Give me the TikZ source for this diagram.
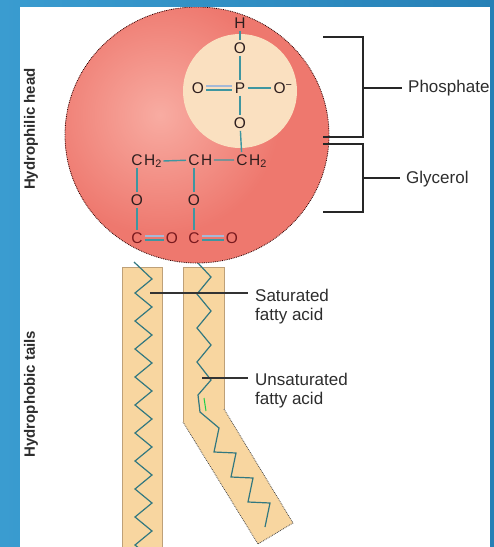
\documentclass[tikz,border=0pt]{standalone}
\usepackage{fontspec}
\setmainfont{Liberation Sans}
\usetikzlibrary{calc}

\definecolor{slideblue}{RGB}{58,156,208}
\definecolor{slidedark}{RGB}{38,128,182}
\definecolor{headred}{RGB}{238,120,110}
\definecolor{headlight}{RGB}{248,172,162}
\definecolor{cream}{RGB}{250,224,192}
\definecolor{tailfill}{RGB}{248,214,160}
\definecolor{tailedge}{RGB}{190,160,120}
\definecolor{bondcol}{RGB}{62,150,160}
\definecolor{bondpale}{RGB}{165,185,215}
\definecolor{atomcol}{RGB}{45,30,30}
\definecolor{esteratom}{RGB}{120,25,30}
\definecolor{labelcol}{RGB}{45,45,45}

\tikzset{
  atom/.style={font=\fontsize{15.5}{17}\selectfont, text=atomcol, inner sep=0.6pt, outer sep=1.8pt},
  ester/.style={atom, text=esteratom},
  hyd/.style={atom, anchor=base west, inner sep=0pt, outer sep=1.5pt},
  bond/.style={draw=bondcol, line width=1.4pt},
  pale/.style={draw=bondpale, line width=1.4pt},
  chain/.style={draw=bondcol!80!black, line width=1.2pt, line join=miter},
  brk/.style={draw=black!85, line width=1.5pt},
  lead/.style={draw=black!80, line width=1.1pt},
  lab/.style={font=\fontsize{17}{19}\selectfont, text=labelcol, inner sep=0pt, align=left},
  side/.style={font=\bfseries\fontsize{15}{17}\selectfont, text=labelcol, rotate=90}
}

\begin{document}
\begin{tikzpicture}[x=1pt, y=-1pt]
\useasboundingbox (0,0) rectangle (494,547);
% slide background and white panel
\shade[left color=slideblue, right color=slidedark] (0,0) rectangle (494,547);
\fill[white] (20,7) rectangle (490,547);

\begin{scope}
\clip (20,7) rectangle (490,547);

% fatty acid tails
\fill[tailfill] (122,267) rectangle (162,560);
\draw[tailedge, line width=0.6pt] (122,560) -- (122,267) -- (162,267) -- (162,560);
\fill[tailfill] (183,267) -- (224,267) -- (224,409) -- (293,523) -- (258,544) -- (183,422) -- cycle;
\draw[tailedge, line width=0.6pt] (183,422) -- (183,267) -- (224,267) -- (224,409);
\draw[black!70, line width=0.8pt, densely dotted] (224,409) -- (293,523) -- (258,544) -- (183,422);

% saturated chain
\draw[chain] (134,262) \foreach \k in {0,...,10} { -- (152,{279+28*\k}) -- (135,{293+28*\k}) };
% unsaturated chain, bent at its cis double bond
\draw[chain] (197,262) -- (211,277) -- (197,294) -- (211,311) -- (197,328) -- (211,345)
  -- (197,362) -- (211,380) -- (198,395) -- (200,412) -- (219,428) -- (214,452)
  -- (236,453) -- (231,477) -- (253,478) -- (248,502) -- (270,503) -- (265,527);
\draw[draw=green!55!bondcol, line width=1pt] (204,398) -- (206,411);

% hydrophilic head
\fill[headred] (197,135) ellipse [x radius=132, y radius=128];
\begin{scope}
  \clip (197,135) ellipse [x radius=132, y radius=128];
  \shade[inner color=headlight, outer color=headred] (160,115) circle [radius=120];
\end{scope}
\draw[black!60!red!40!black, line width=0.8pt, densely dotted] (197,135) ellipse [x radius=132, y radius=128];
\fill[cream] (240,91) circle [radius=57];

% phosphate group
\node[atom] (h)  at (240,23) {H};
\node[atom] (o1) at (240,48) {O};
\node[atom] (p)  at (240,88) {P};
\node[atom] (ol) at (198,88) {O};
\node[atom] (or) at (283,88) {O\textsuperscript{−}};
\node[atom] (o2) at (240,123) {O};
% glycerol backbone
\node[atom] (c1) at (137,160) {C};
\node[hyd] (h1) at ([xshift=-2.4pt]c1.base east) {H\textsubscript{2}};
\node[atom] (c2) at (194,160) {C};
\node[hyd] (h2) at ([xshift=-2.4pt]c2.base east) {H};
\node[atom] (c3) at (242,160) {C};
\node[hyd] (h3) at ([xshift=-2.4pt]c3.base east) {H\textsubscript{2}};
\node[atom] (oa) at (137,200) {O};
\node[atom] (ob) at (194,200) {O};
% ester carbonyls
\node[ester] (ca) at (137,238) {C};
\node[ester] (oc) at (172,238) {O};
\node[ester] (cb) at (194,238) {C};
\node[ester] (od) at (232,238) {O};

\draw[bond] (h) -- (o1);
\draw[bond] (o1) -- (p);
\draw[bond] (p) -- (o2);
\draw[bond] (o2) -- (c3);
\draw[bond] (p) -- (or);
\draw[pale] ([yshift=2pt]ol.east) -- ([yshift=2pt]p.west);
\draw[bond] ([yshift=-2pt]ol.east) -- ([yshift=-2pt]p.west);
\draw[bond] (h1) -- (c2);
\draw[bond] (h2) -- (c3);
\draw[bond] (c1) -- (oa);
\draw[bond] (c2) -- (ob);
\draw[bond] (oa) -- (ca);
\draw[bond] (ob) -- (cb);
\draw[pale] ([yshift=2pt]ca.east) -- ([yshift=2pt]oc.west);
\draw[bond] ([yshift=-2pt]ca.east) -- ([yshift=-2pt]oc.west);
\draw[pale] ([yshift=2pt]cb.east) -- ([yshift=2pt]od.west);
\draw[bond] ([yshift=-2pt]cb.east) -- ([yshift=-2pt]od.west);

% region labels with brackets
\node[lab, anchor=west] (phos) at (408,88) {Phosphate};
\node[lab, anchor=west] (glyc) at (406,179) {Glycerol};
\draw[brk] (323,37) -| (363,137) -- (323,137);
\draw[brk] (323,144) -| (363,212) -- (323,212);
\coordinate (phosbk) at (363,88);
\coordinate (glycbk) at (363,178);
\draw[brk] (phosbk) -- ([xshift=-6pt]phosbk -| phos.west);
\draw[brk] (glycbk) -- ([xshift=-6pt]glycbk -| glyc.west);

% tail labels with leaders
\node[lab, anchor=north west] (sat) at (255,289) {Saturated\\fatty acid};
\node[lab, anchor=north west] (unsat) at (255,373) {Unsaturated\\fatty acid};
\coordinate (satpt) at (150,293);
\coordinate (unsatpt) at (202,378);
\draw[lead] (satpt) -- ([xshift=-7pt]satpt -| sat.west);
\draw[lead] (unsatpt) -- ([xshift=-7pt]unsatpt -| unsat.west);

\node[side] (head) at (31,129) {Hydrophilic head};
\node[side] (tails) at (31,394) {Hydrophobic tails};
\end{scope}
\end{tikzpicture}
\end{document}
